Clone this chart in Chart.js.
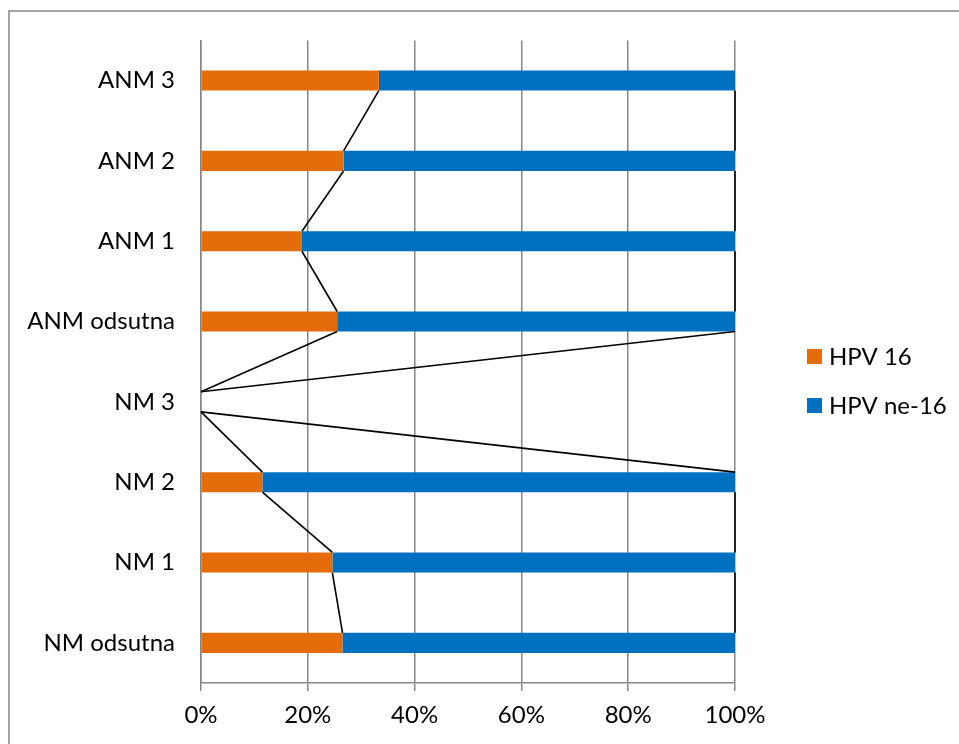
<!DOCTYPE html>
<html>
<head>
<meta charset="utf-8">
<script src="https://cdn.jsdelivr.net/npm/chart.js@4"></script>
<style>
  html, body { margin: 0; padding: 0; background: #fff; }
  canvas { display: block; }
</style>
</head>
<body>
<canvas id="hpvChart" width="959" height="744"></canvas>
<script>
// Data (bottom to top, like the original sheet)
const categories = ["NM odsutna", "NM 1", "NM 2", "NM 3", "ANM odsutna", "ANM 1", "ANM 2", "ANM 3"];
const hpv16 = [26.5, 24.6, 11.5, 0, 25.5, 18.9, 26.7, 33.3];
const hpvNe16 = [73.5, 75.4, 88.5, 0, 74.5, 81.1, 73.3, 66.7];
const xTicks = [0, 20, 40, 60, 80, 100];

const gray = "#868686";
const font = { family: "Lato, 'Open Sans', sans-serif", size: 24 };

// Outer chart frame
const framePlugin = {
    id: "frame",
    beforeDraw(chart) {
        const ctx = chart.ctx;
        ctx.save();
        ctx.strokeStyle = gray;
        ctx.lineWidth = 1.5;
        ctx.strokeRect(9, 11, 1000, 1000);
        ctx.restore();
    },
};

// Excel style series lines joining the ends of each segment
const seriesLinesPlugin = {
    id: "seriesLines",
    afterDatasetsDraw(chart) {
        const ctx = chart.ctx;
        ctx.save();
        ctx.strokeStyle = "#000";
        ctx.lineWidth = 1.6;
        chart.data.datasets.forEach((ds, d) => {
            const bars = chart.getDatasetMeta(d).data;
            for (let i = 0; i < bars.length - 1; i++) {
                const a = bars[i].getProps(["x", "y", "height"], true);
                const b = bars[i + 1].getProps(["x", "y", "height"], true);
                ctx.beginPath();
                ctx.moveTo(a.x, a.y - a.height / 2);
                ctx.lineTo(b.x, b.y + b.height / 2);
                ctx.stroke();
            }
        });
        ctx.restore();
    },
};

// Legend drawn at the right like the original
const legendPlugin = {
    id: "sideLegend",
    afterDraw(chart) {
        const ctx = chart.ctx;
        ctx.save();
        ctx.font = font.size + "px " + font.family;
        ctx.textBaseline = "middle";
        chart.data.datasets.forEach((ds, i) => {
            const y = 356 + i * 49;
            ctx.fillStyle = ds.backgroundColor;
            ctx.fillRect(807, y - 7, 15, 15);
            ctx.fillStyle = "#000";
            ctx.fillText(ds.label, 829, y + 1);
        });
        ctx.restore();
    },
};

const ctx = document.getElementById("hpvChart").getContext("2d");
new Chart(ctx, {
    type: "bar",
    data: {
        labels: categories,
        datasets: [
            {
                label: "HPV 16",
                data: hpv16,
                backgroundColor: "#E46C0A",
                barPercentage: 0.5,
                categoryPercentage: 0.5,
            },
            {
                label: "HPV ne-16",
                data: hpvNe16,
                backgroundColor: "#0070C0",
                barPercentage: 0.5,
                categoryPercentage: 0.5,
            },
        ],
    },
    options: {
        indexAxis: "y",
        responsive: false,
        animation: false,
        layout: {
            padding: { top: 40, right: 224, bottom: 0, left: 0 },
        },
        plugins: {
            legend: { display: false },
            tooltip: { enabled: false },
        },
        scales: {
            x: {
                stacked: true,
                min: 0,
                max: 100,
                afterBuildTicks: (scale) => {
                    scale.ticks = xTicks.map((v) => ({ value: v }));
                },
                afterFit: (scale) => {
                    scale.height = 61;
                },
                grid: {
                    color: gray,
                    lineWidth: 1.5,
                    tickLength: 8,
                },
                border: { color: gray, width: 1.5 },
                ticks: {
                    color: "#000",
                    font: font,
                    padding: 10,
                    maxRotation: 0,
                    callback: (v) => v + "%",
                },
            },
            y: {
                stacked: true,
                reverse: true,
                afterFit: (scale) => {
                    scale.width = 201;
                },
                grid: { display: false, drawTicks: false },
                border: { color: gray, width: 1.5 },
                ticks: {
                    color: "#000",
                    font: font,
                    padding: 26,
                },
            },
        },
    },
    plugins: [framePlugin, seriesLinesPlugin, legendPlugin],
});
</script>
</body>
</html>
